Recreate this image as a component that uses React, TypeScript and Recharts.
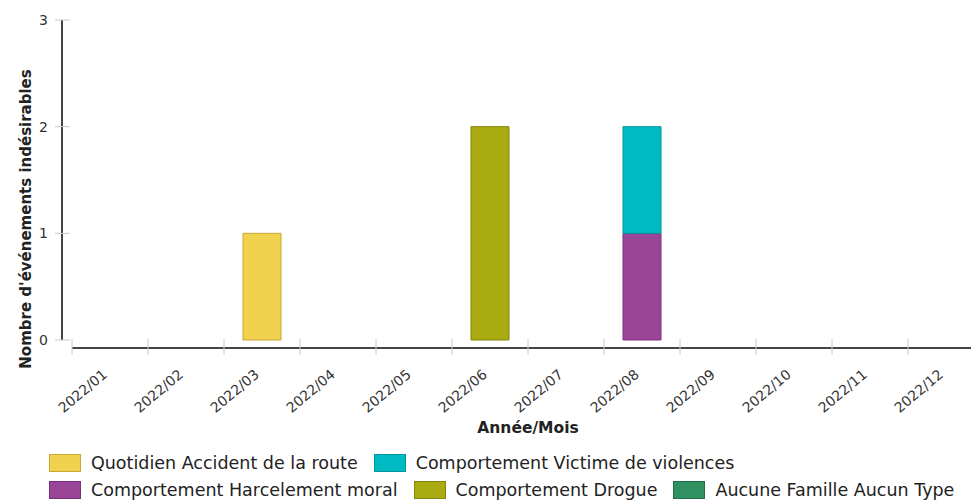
import React from "react";
import { Bar, BarChart, Label, Legend, XAxis, YAxis } from "recharts";

const months = [
  "2022/01", "2022/02", "2022/03", "2022/04", "2022/05", "2022/06",
  "2022/07", "2022/08", "2022/09", "2022/10", "2022/11", "2022/12",
];
const accidentRoute = [0, 0, 1, 0, 0, 0, 0, 0, 0, 0, 0, 0];
const harcelementMoral = [0, 0, 0, 0, 0, 0, 0, 1, 0, 0, 0, 0];
const victimeViolences = [0, 0, 0, 0, 0, 0, 0, 1, 0, 0, 0, 0];
const drogue = [0, 0, 0, 0, 0, 2, 0, 0, 0, 0, 0, 0];
const aucunType = [0, 0, 0, 0, 0, 0, 0, 0, 0, 0, 0, 0];
const yTicks = [0, 1, 2, 3];
const monthTicks = months.map((_, i) => i);

const data = months.map((m, i) => ({
  month: m,
  idx: i,
  accident: accidentRoute[i],
  harcelement: harcelementMoral[i],
  victime: victimeViolences[i],
  drogue: drogue[i],
  aucun: aucunType[i],
}));

// stacking order (bottom first)
const series = [
  { key: "accident", name: "Quotidien Accident de la route", fill: "#f1d24f", stroke: "#c9a835" },
  { key: "harcelement", name: "Comportement Harcelement moral", fill: "#9b4599", stroke: "#7a2f7d" },
  { key: "victime", name: "Comportement Victime de violences", fill: "#00bbc3", stroke: "#00959b" },
  { key: "drogue", name: "Comportement Drogue", fill: "#aaaa12", stroke: "#85850a" },
  { key: "aucun", name: "Aucune Famille Aucun Type", fill: "#2f9060", stroke: "#1f6f48" },
];
const legendOrder = ["accident", "victime", "harcelement", "drogue", "aucun"];

const font = "'DejaVu Sans', sans-serif";

const YTick = (props: any) => {
  const { x, y, payload } = props;
  return (
    <g>
      <line x1={x - 7} x2={x + 8} y1={y} y2={y} stroke="#c8c8c8" />
      <text x={x - 14} y={y} dy={5} textAnchor="end" fontSize={14} fill="#333">
        {payload.value}
      </text>
    </g>
  );
};

const XTick = (props: any) => {
  const { x, y, payload } = props;
  const tx = x + 36;
  const ty = y + 28;
  return (
    <g>
      <line x1={x} x2={x} y1={y - 9} y2={y + 7} stroke="#c8c8c8" />
      <text x={tx} y={ty} textAnchor="end" fontSize={14} fill="#333" transform={`rotate(-40 ${tx} ${ty})`}>
        {months[payload.value]}
      </text>
    </g>
  );
};

const renderLegend = () => (
  <div style={{ display: "flex", flexWrap: "wrap", width: 930, fontSize: 17.5, color: "#222", fontFamily: font }}>
    {legendOrder.map((k) => {
      const s = series.find((d) => d.key === k)!;
      return (
        <div key={k} style={{ display: "flex", alignItems: "center", height: 27.5, marginRight: 16 }}>
          <span
            style={{
              width: 32,
              height: 18,
              background: s.fill,
              border: `1px solid ${s.stroke}`,
              boxSizing: "border-box",
              marginRight: 10,
            }}
          />
          <span>{s.name}</span>
        </div>
      );
    })}
  </div>
);

export default function App() {
  return (
    <div style={{ position: "absolute", left: 0, top: 0, width: 971, height: 500, overflow: "hidden", background: "#fff", fontFamily: font }}>
      <BarChart width={1000} height={500} data={data} margin={{ top: 20, right: 16, left: 0, bottom: 7 }}>
        <XAxis xAxisId="cat" dataKey="month" height={8} tick={false} axisLine={false} tickLine={false} />
        <XAxis
          xAxisId="num"
          type="number"
          dataKey="idx"
          domain={[0, 12]}
          allowDataOverflow
          ticks={monthTicks}
          interval={0}
          height={90}
          tickSize={0}
          tickMargin={0}
          tickLine={false}
          axisLine={{ stroke: "#444", strokeWidth: 2 }}
          tick={<XTick />}
        >
          <Label
            content={(p: any) => {
              const vb = p.viewBox;
              return (
                <text x={vb.x + vb.width / 2} y={vb.y + 85} textAnchor="middle" fontSize={15.5} fontWeight="bold" fill="#222">
                  Année/Mois
                </text>
              );
            }}
          />
        </XAxis>
        <YAxis yAxisId="a" width={10} domain={[0, 3]} tick={false} axisLine={false} tickLine={false} />
        <YAxis
          yAxisId="b"
          width={62}
          domain={[0, 3]}
          ticks={yTicks}
          interval={0}
          tickSize={0}
          tickMargin={0}
          tickLine={false}
          axisLine={{ stroke: "#444", strokeWidth: 2 }}
          tick={<YTick />}
        >
          <Label
            content={() => {
              const cx = 31;
              const cy = 219;
              return (
                <text x={cx} y={cy} textAnchor="middle" fontSize={15} fontWeight="bold" fill="#222" transform={`rotate(-90 ${cx} ${cy})`}>
                  Nombre d'événements indésirables
                </text>
              );
            }}
          />
        </YAxis>
        {series.map((s) => (
          <Bar
            key={s.key}
            dataKey={s.key}
            name={s.name}
            xAxisId="cat"
            yAxisId="b"
            stackId="a"
            barSize={38}
            fill={s.fill}
            stroke={s.stroke}
            isAnimationActive={false}
          />
        ))}
        <Legend
          content={renderLegend}
          wrapperStyle={{ position: "absolute", left: 49, top: 449, bottom: "auto", width: 930, height: 55 }}
        />
      </BarChart>
    </div>
  );
}
